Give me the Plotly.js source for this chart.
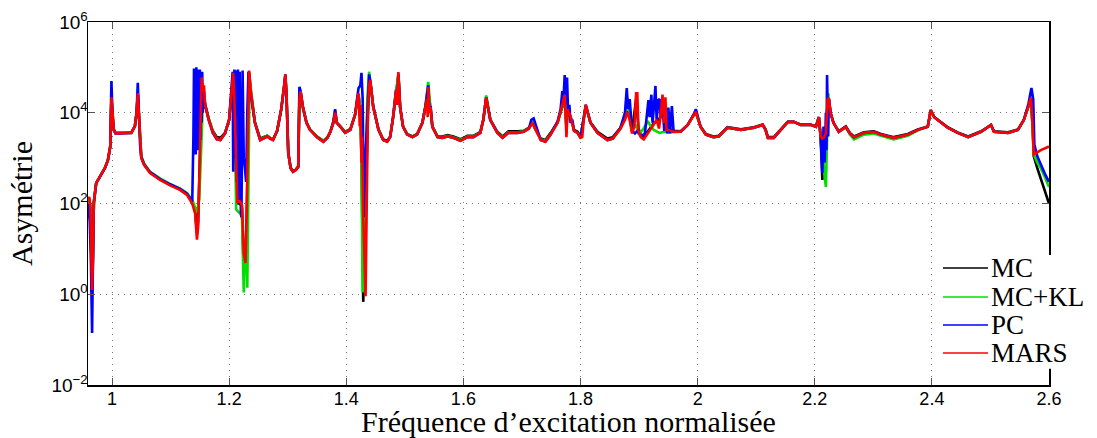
<!DOCTYPE html>
<html>
<head>
<meta charset="utf-8">
<script src="https://cdn.plot.ly/plotly-3.0.1.min.js"></script>
<style>html,body{margin:0;padding:0;background:#fff;}#chart{width:1097px;height:438px;}</style>
</head>
<body>
<div id="chart"></div>
<script>
// ---- Data: [normalised frequency, asymmetry] ----
const seriesNames = ["MC", "MC+KL", "PC", "MARS"];
const seriesColors = ["#000000", "#00e000", "#0000ff", "#ff0000"];

const marsPts = [[0.959,120],[0.961,140],[0.963,90],[0.965,5],[0.966,1.25],[0.967,4],[0.969,110],[0.973,280],[0.979,390],[0.988,610],[0.993,900],[0.997,1800],[0.999,22000],[1.001,8000],[1.003,4200],[1.006,3500],[1.015,3500],[1.025,3500],[1.033,3600],[1.039,5000],[1.042,10000],[1.044,27000],[1.046,8000],[1.048,1800],[1.050,1000],[1.055,700],[1.065,470],[1.082,330],[1.099,250],[1.116,200],[1.128,155],[1.137,100],[1.142,60],[1.145,16],[1.147,30],[1.149,300],[1.151,5000],[1.153,60000],[1.155,30000],[1.157,40000],[1.159,15000],[1.165,7000],[1.172,3800],[1.179,2600],[1.185,2500],[1.193,3500],[1.200,7000],[1.204,25000],[1.207,76000],[1.209,20000],[1.211,1500],[1.214,110],[1.219,110],[1.222,90],[1.225,8],[1.228,4.9],[1.230,60],[1.232,2000],[1.234,85000],[1.237,30000],[1.244,6000],[1.253,2500],[1.260,2800],[1.265,3000],[1.270,2700],[1.275,2500],[1.282,4000],[1.289,12000],[1.294,40000],[1.296,70000],[1.298,25000],[1.301,1300],[1.305,600],[1.309,500],[1.314,550],[1.318,640],[1.320,20000],[1.322,30000],[1.326,13500],[1.332,6000],[1.338,4200],[1.350,2900],[1.361,2300],[1.368,2800],[1.373,3800],[1.378,6000],[1.381,10000],[1.384,6000],[1.390,4900],[1.398,3600],[1.407,4200],[1.415,9000],[1.419,20000],[1.421,27000],[1.423,5000],[1.424,15000],[1.426,800],[1.427,3000],[1.429,50],[1.431,5],[1.433,0.9],[1.435,100],[1.437,10000],[1.439,40000],[1.441,53000],[1.446,13500],[1.455,4200],[1.463,2500],[1.470,2300],[1.475,2900],[1.480,8000],[1.485,32000],[1.487,15000],[1.489,79000],[1.492,13500],[1.497,4900],[1.504,3300],[1.513,2900],[1.521,3300],[1.530,6000],[1.535,13500],[1.538,20000],[1.539,8000],[1.540,37000],[1.542,10000],[1.544,13500],[1.547,4900],[1.556,2900],[1.564,2800],[1.573,3000],[1.583,2800],[1.595,2400],[1.607,2900],[1.617,2900],[1.629,3600],[1.634,6900],[1.639,22000],[1.646,6900],[1.658,3600],[1.667,2800],[1.677,3600],[1.692,3600],[1.703,3800],[1.712,4500],[1.718,6000],[1.722,4700],[1.732,2500],[1.740,2300],[1.749,3300],[1.761,6000],[1.766,10000],[1.771,19000],[1.773,25000],[1.775,4000],[1.776,2900],[1.778,12000],[1.783,8100],[1.789,4000],[1.795,3600],[1.800,2800],[1.803,2900],[1.806,8000],[1.809,15000],[1.817,6000],[1.829,3600],[1.846,2500],[1.855,2700],[1.868,4400],[1.876,7000],[1.880,10500],[1.884,7000],[1.888,3500],[1.892,5000],[1.895,27000],[1.897,27000],[1.899,4000],[1.903,2900],[1.908,2600],[1.915,3500],[1.920,4200],[1.925,5500],[1.930,7000],[1.934,4500],[1.937,9000],[1.940,25000],[1.943,6000],[1.945,22000],[1.947,4000],[1.949,4200],[1.959,3800],[1.971,3800],[1.983,5400],[1.993,9000],[1.997,10500],[2.005,4900],[2.014,3300],[2.027,2900],[2.036,3000],[2.051,4700],[2.074,4200],[2.096,4700],[2.111,5400],[2.116,4200],[2.120,2800],[2.130,2800],[2.142,4200],[2.154,6300],[2.164,6300],[2.176,5400],[2.193,5400],[2.202,4900],[2.207,8000],[2.210,3000],[2.213,2700],[2.216,2900],[2.219,3500],[2.222,20000],[2.224,21000],[2.227,10000],[2.232,6000],[2.241,3800],[2.253,4900],[2.260,3500],[2.267,2900],[2.284,3600],[2.301,3800],[2.313,3300],[2.335,2800],[2.359,3300],[2.376,4200],[2.393,4900],[2.398,11500],[2.404,8000],[2.410,6900],[2.427,4700],[2.444,3600],[2.462,2900],[2.484,3800],[2.501,5400],[2.506,3800],[2.530,3600],[2.547,4200],[2.557,6900],[2.565,14000],[2.569,22000],[2.572,5000],[2.574,1200],[2.586,1500],[2.600,1800]];

const mcPts = [[0.959,110],[0.961,130],[0.963,80],[0.965,4],[0.966,1.1],[0.967,3],[0.969,100],[0.973,280],[0.979,390],[0.988,610],[0.993,900],[0.997,1800],[0.999,20000],[1.001,8000],[1.003,4300],[1.006,3600],[1.015,3600],[1.025,3600],[1.033,3700],[1.039,5000],[1.042,10000],[1.044,25000],[1.046,8000],[1.048,1900],[1.050,1050],[1.055,720],[1.065,480],[1.082,340],[1.099,260],[1.116,205],[1.128,160],[1.137,105],[1.142,70],[1.145,22],[1.147,40],[1.149,250],[1.152,8000],[1.155,25000],[1.159,15000],[1.165,7500],[1.172,4000],[1.179,2900],[1.185,2800],[1.193,3600],[1.200,7000],[1.204,24000],[1.207,70000],[1.209,20000],[1.211,1500],[1.214,100],[1.219,100],[1.222,80],[1.225,3],[1.228,8],[1.230,50],[1.232,1500],[1.234,80000],[1.237,30000],[1.244,6200],[1.253,2700],[1.260,2900],[1.265,3100],[1.270,2800],[1.275,2600],[1.282,4000],[1.289,12000],[1.294,38000],[1.296,65000],[1.298,22000],[1.301,1300],[1.305,620],[1.309,520],[1.314,560],[1.318,660],[1.320,20000],[1.322,28000],[1.326,13000],[1.332,6200],[1.338,4300],[1.350,3000],[1.361,2400],[1.368,2900],[1.373,3900],[1.378,6000],[1.381,9500],[1.384,6000],[1.390,5000],[1.398,3800],[1.407,4400],[1.415,9000],[1.419,19000],[1.421,25000],[1.424,12000],[1.426,1000],[1.429,0.68],[1.431,5],[1.434,300],[1.437,9000],[1.439,40000],[1.441,50000],[1.446,13500],[1.455,4300],[1.463,2600],[1.470,2400],[1.475,3000],[1.480,8000],[1.485,30000],[1.489,70000],[1.492,13000],[1.497,5000],[1.504,3400],[1.513,3000],[1.521,3400],[1.530,6000],[1.535,13000],[1.540,30000],[1.544,12000],[1.547,5000],[1.556,3000],[1.564,3000],[1.573,3200],[1.583,3000],[1.595,2600],[1.607,3100],[1.617,3100],[1.629,3800],[1.634,7000],[1.639,21000],[1.646,7000],[1.658,3800],[1.667,3000],[1.677,3900],[1.692,3900],[1.703,4000],[1.712,4700],[1.718,6300],[1.722,4500],[1.732,2700],[1.740,2500],[1.749,3600],[1.761,6300],[1.766,10000],[1.771,18000],[1.773,20000],[1.776,5000],[1.778,11000],[1.783,8300],[1.789,4200],[1.795,3800],[1.800,3000],[1.806,8000],[1.809,14000],[1.817,6200],[1.829,3800],[1.846,2700],[1.855,2900],[1.868,4600],[1.876,7500],[1.880,11000],[1.884,7500],[1.888,4000],[1.895,20000],[1.899,4500],[1.903,3200],[1.908,2900],[1.915,3800],[1.920,4600],[1.925,5800],[1.930,6500],[1.937,8000],[1.940,18000],[1.945,12000],[1.949,4500],[1.959,4000],[1.971,3900],[1.983,5400],[1.993,9000],[1.997,10000],[2.005,5000],[2.014,3400],[2.027,3000],[2.036,3100],[2.051,4800],[2.074,4300],[2.096,4800],[2.111,5500],[2.116,4300],[2.120,2900],[2.130,2900],[2.142,4300],[2.154,6300],[2.164,6300],[2.176,5500],[2.193,5500],[2.202,5000],[2.207,8000],[2.210,3000],[2.213,330],[2.216,1500],[2.219,3000],[2.222,18000],[2.224,20000],[2.227,10000],[2.232,6000],[2.241,3900],[2.253,5000],[2.260,3600],[2.267,3000],[2.284,3700],[2.301,3900],[2.313,3400],[2.335,2900],[2.359,3400],[2.376,4300],[2.393,5000],[2.398,11000],[2.404,8000],[2.410,7000],[2.427,4800],[2.444,3700],[2.462,3000],[2.484,3900],[2.501,5400],[2.506,3900],[2.530,3700],[2.547,4300],[2.557,7000],[2.565,14000],[2.569,21000],[2.572,5000],[2.574,1100],[2.580,600],[2.586,350],[2.593,180],[2.600,100]];

const mcklPts = [[0.959,115],[0.961,135],[0.963,85],[0.965,4],[0.966,1.2],[0.967,4],[0.969,105],[0.973,285],[0.979,400],[0.988,620],[0.993,900],[0.997,1800],[0.999,21000],[1.001,8000],[1.003,4300],[1.006,3600],[1.015,3600],[1.025,3600],[1.033,3700],[1.039,5000],[1.042,10000],[1.044,26000],[1.046,8000],[1.048,2000],[1.050,1100],[1.055,750],[1.065,500],[1.082,360],[1.099,270],[1.116,215],[1.128,170],[1.137,120],[1.142,80],[1.145,65],[1.149,120],[1.152,1500],[1.155,15000],[1.159,15000],[1.165,7500],[1.172,3900],[1.179,2700],[1.185,2600],[1.193,3500],[1.200,7000],[1.204,24000],[1.207,60000],[1.209,15000],[1.211,500],[1.212,75],[1.216,65],[1.220,60],[1.222,45],[1.225,1.1],[1.227,15],[1.229,10],[1.231,1.4],[1.233,1000],[1.235,60000],[1.238,25000],[1.244,6000],[1.253,2600],[1.260,2900],[1.265,3100],[1.270,2800],[1.275,2600],[1.282,4000],[1.289,12000],[1.294,38000],[1.296,65000],[1.298,24000],[1.301,1300],[1.305,600],[1.309,500],[1.314,560],[1.318,650],[1.320,37000],[1.322,25000],[1.326,12000],[1.332,6100],[1.338,4300],[1.350,3000],[1.361,2400],[1.368,2900],[1.373,3900],[1.378,6500],[1.381,11000],[1.384,6000],[1.390,5000],[1.398,3700],[1.407,4300],[1.415,9000],[1.419,20000],[1.421,25000],[1.424,12000],[1.426,1000],[1.428,1.1],[1.431,40],[1.434,1000],[1.436,20000],[1.439,80000],[1.441,50000],[1.446,13500],[1.455,4300],[1.463,2500],[1.470,2300],[1.475,2900],[1.480,8000],[1.485,30000],[1.489,70000],[1.492,13000],[1.497,5000],[1.504,3400],[1.513,2900],[1.521,3400],[1.530,6000],[1.535,13500],[1.540,48000],[1.544,12000],[1.547,5000],[1.556,2900],[1.564,2900],[1.573,3100],[1.583,2900],[1.595,2500],[1.607,3000],[1.617,3000],[1.629,3700],[1.634,7000],[1.639,24000],[1.646,7000],[1.658,3700],[1.667,2900],[1.677,3700],[1.692,3700],[1.703,3900],[1.712,4600],[1.718,6300],[1.722,4600],[1.732,2600],[1.740,2400],[1.749,3400],[1.761,6200],[1.766,10000],[1.771,18000],[1.773,22000],[1.776,4500],[1.778,10000],[1.783,8000],[1.789,4000],[1.795,3600],[1.800,2800],[1.806,8000],[1.809,14000],[1.817,6000],[1.829,3600],[1.846,2500],[1.855,2700],[1.868,4500],[1.876,9000],[1.879,25000],[1.884,8000],[1.888,4000],[1.895,5500],[1.899,3600],[1.903,3800],[1.908,4500],[1.915,6500],[1.920,5000],[1.925,4200],[1.930,3800],[1.935,3600],[1.940,3700],[1.945,3800],[1.949,3700],[1.959,3800],[1.971,3800],[1.983,5400],[1.993,9000],[1.997,10500],[2.005,4900],[2.014,3300],[2.027,2900],[2.036,3000],[2.051,4700],[2.074,4200],[2.096,4700],[2.111,5400],[2.116,4200],[2.120,2800],[2.130,2800],[2.142,4200],[2.154,6300],[2.164,6300],[2.176,5400],[2.193,5400],[2.202,4900],[2.207,8000],[2.210,3000],[2.213,2000],[2.216,500],[2.219,230],[2.221,1500],[2.223,27000],[2.226,10000],[2.232,6000],[2.241,3800],[2.253,4700],[2.260,3300],[2.267,2600],[2.284,3300],[2.301,3500],[2.313,3100],[2.335,2600],[2.359,3100],[2.376,4100],[2.393,4900],[2.398,11500],[2.404,8000],[2.410,6900],[2.427,4700],[2.444,3600],[2.462,2900],[2.484,3800],[2.501,5400],[2.506,3800],[2.530,3600],[2.547,4200],[2.557,6900],[2.565,14000],[2.569,22000],[2.572,5000],[2.574,1200],[2.580,800],[2.586,600],[2.593,380],[2.600,230]];

const pcPts = [[0.959,100],[0.962,40],[0.964,5],[0.966,0.14],[0.967,2],[0.969,110],[0.973,280],[0.979,390],[0.988,610],[0.993,900],[0.997,1800],[0.999,50000],[1.001,8000],[1.003,4200],[1.006,3500],[1.015,3500],[1.025,3500],[1.033,3600],[1.039,5000],[1.042,10000],[1.044,46000],[1.046,8000],[1.048,1900],[1.050,1050],[1.055,720],[1.065,490],[1.082,345],[1.099,265],[1.116,210],[1.128,165],[1.135,120],[1.137,110],[1.139,3000],[1.140,95000],[1.141,2000],[1.142,90000],[1.143,1200],[1.144,100000],[1.145,3000],[1.146,90000],[1.147,1500],[1.148,80000],[1.149,4000],[1.150,90000],[1.151,2500],[1.152,70000],[1.153,6000],[1.154,80000],[1.155,10000],[1.157,30000],[1.159,15000],[1.165,7000],[1.172,3600],[1.179,2600],[1.185,2500],[1.193,3500],[1.200,7000],[1.204,30000],[1.206,80000],[1.207,500],[1.209,90000],[1.210,1000],[1.212,85000],[1.213,300],[1.215,90000],[1.216,120],[1.218,80000],[1.220,60],[1.221,50],[1.223,85000],[1.225,1000],[1.227,600],[1.229,300],[1.231,10000],[1.233,80000],[1.236,30000],[1.244,6000],[1.253,2500],[1.260,2800],[1.265,3000],[1.270,2700],[1.275,2500],[1.282,4000],[1.289,12000],[1.294,40000],[1.296,70000],[1.298,25000],[1.301,1300],[1.305,600],[1.309,500],[1.314,550],[1.318,640],[1.320,37000],[1.322,30000],[1.326,13500],[1.332,6000],[1.338,4200],[1.350,2900],[1.361,2300],[1.368,2800],[1.373,3800],[1.378,6500],[1.381,12000],[1.384,6000],[1.390,4900],[1.398,3600],[1.407,4200],[1.415,9000],[1.419,23000],[1.421,35000],[1.424,40000],[1.426,76000],[1.428,20000],[1.430,50],[1.432,600],[1.434,2000],[1.436,10000],[1.439,70000],[1.441,50000],[1.446,14000],[1.455,4200],[1.463,2500],[1.470,2300],[1.475,2900],[1.480,8000],[1.485,32000],[1.487,15000],[1.489,70000],[1.492,13500],[1.497,4900],[1.504,3300],[1.513,2900],[1.521,3300],[1.530,6000],[1.535,13500],[1.538,30000],[1.540,40000],[1.542,12000],[1.544,14000],[1.547,4900],[1.556,2900],[1.564,2800],[1.573,3000],[1.583,2800],[1.595,2400],[1.607,2900],[1.617,2900],[1.629,3600],[1.634,6900],[1.639,22000],[1.646,6900],[1.658,3600],[1.667,2800],[1.677,3600],[1.692,3600],[1.703,3800],[1.712,4500],[1.716,7000],[1.720,7500],[1.732,2500],[1.740,2300],[1.749,3300],[1.761,6500],[1.766,12000],[1.769,30000],[1.771,20000],[1.773,68000],[1.775,15000],[1.777,60000],[1.779,8000],[1.781,15000],[1.783,6000],[1.786,7000],[1.789,4000],[1.795,3600],[1.800,2800],[1.806,9000],[1.809,15000],[1.817,6000],[1.829,3600],[1.846,2500],[1.855,2700],[1.868,4600],[1.876,10000],[1.879,35000],[1.881,12000],[1.884,20000],[1.888,4000],[1.893,3500],[1.897,4000],[1.903,3000],[1.910,3500],[1.916,19000],[1.918,8000],[1.921,25000],[1.923,6000],[1.925,12000],[1.928,39000],[1.930,7000],[1.933,19000],[1.935,20000],[1.937,8000],[1.940,15000],[1.943,4000],[1.946,10000],[1.948,3500],[1.950,13000],[1.953,3500],[1.956,14000],[1.959,3800],[1.971,3800],[1.983,5400],[1.993,9000],[1.997,12000],[2.005,4900],[2.014,3300],[2.027,2900],[2.036,3000],[2.051,4700],[2.074,4200],[2.096,4700],[2.111,5400],[2.116,4200],[2.120,2800],[2.130,2800],[2.142,4200],[2.154,6300],[2.164,6300],[2.176,5400],[2.193,5400],[2.202,4900],[2.207,8000],[2.210,3000],[2.213,470],[2.215,5000],[2.217,800],[2.219,10000],[2.220,1500],[2.221,68000],[2.223,3000],[2.224,21000],[2.227,10000],[2.232,6000],[2.241,3800],[2.253,4900],[2.260,3500],[2.267,2900],[2.284,3600],[2.301,3800],[2.313,3300],[2.335,2800],[2.359,3300],[2.376,4200],[2.393,4900],[2.398,11500],[2.404,8000],[2.410,6900],[2.427,4700],[2.444,3600],[2.462,2900],[2.484,3800],[2.501,5400],[2.506,3800],[2.530,3600],[2.547,4200],[2.557,6900],[2.565,16000],[2.570,35000],[2.573,20000],[2.575,2000],[2.580,1100],[2.586,700],[2.593,450],[2.600,300]];

// tick labels
const xTickVals = [1, 1.2, 1.4, 1.6, 1.8, 2, 2.2, 2.4, 2.6];
const xTickText = ["1", "1.2", "1.4", "1.6", "1.8", "2", "2.2", "2.4", "2.6"];
const yTickVals = [1e-2, 1, 1e2, 1e4, 1e6];
const yTickText = ["10<sup>\u22122</sup>", "10<sup>0</sup>", "10<sup>2</sup>", "10<sup>4</sup>", "10<sup>6</sup>"];

const seriesPts = [mcPts, mcklPts, pcPts, marsPts];

const traces = seriesNames.map((name, i) => ({
  type: "scatter",
  mode: "lines",
  name: name,
  x: seriesPts[i].map(p => p[0]),
  y: seriesPts[i].map(p => p[1]),
  line: {color: seriesColors[i], width: 2.6},
  hoverinfo: "skip",
  showlegend: false
}));

// Legend (Matlab style, drawn in paper coordinates)
const legRows = [0.3223, 0.2424, 0.1653, 0.0882];
const shapes = [{
  type: "rect", xref: "paper", yref: "paper",
  x0: 0.8814, x1: 1.06, y0: 0.045, y1: 0.358,
  fillcolor: "#fff", line: {width: 0}, layer: "above"
}];
const annotations = [];
seriesNames.forEach((name, i) => {
  shapes.push({
    type: "line", xref: "paper", yref: "paper",
    x0: 0.8897, x1: 0.9365, y0: legRows[i], y1: legRows[i],
    line: {color: seriesColors[i], width: 1.5}, layer: "above"
  });
  annotations.push({
    xref: "paper", yref: "paper", x: 0.9375, y: legRows[i],
    xanchor: "left", yanchor: "middle", showarrow: false,
    text: name,
    font: {family: "Liberation Serif, serif", size: 27, color: "#000"}
  });
});

const axisCommon = {
  showline: true,
  linecolor: "#000",
  linewidth: 1.5,
  mirror: "ticks",
  ticks: "inside",
  ticklen: 7,
  tickcolor: "#555",
  tickwidth: 1,
  showgrid: true,
  gridcolor: "#777",
  gridwidth: 1,
  griddash: "1px,5px",
  zeroline: false,
  tickfont: {family: "Liberation Sans, Arial, sans-serif", size: 18, color: "#000"}
};

const layout = {
  width: 1097,
  height: 438,
  margin: {l: 88, r: 48, t: 22, b: 53},
  paper_bgcolor: "#fff",
  plot_bgcolor: "#fff",
  showlegend: false,
  shapes: shapes,
  annotations: annotations,
  xaxis: Object.assign({}, axisCommon, {
    range: [0.959, 2.6],
    tickvals: xTickVals,
    ticktext: xTickText,
    ticklabelstandoff: -3,
    title: {text: "Fréquence d\u2019excitation normalisée", standoff: 8,
      font: {family: "Liberation Serif, serif", size: 30, color: "#000"}}
  }),
  yaxis: Object.assign({}, axisCommon, {
    type: "log",
    range: [-2, 6],
    tickvals: yTickVals,
    ticktext: yTickText,
    ticklabelstandoff: -5,
    tickfont: {family: "Liberation Sans, Arial, sans-serif", size: 19, color: "#000"},
    title: {text: "Asymétrie", standoff: 10,
      font: {family: "Liberation Serif, serif", size: 30, color: "#000"}}
  })
};

Plotly.newPlot("chart", traces, layout, {staticPlot: true, displayModeBar: false});
</script>
</body>
</html>
